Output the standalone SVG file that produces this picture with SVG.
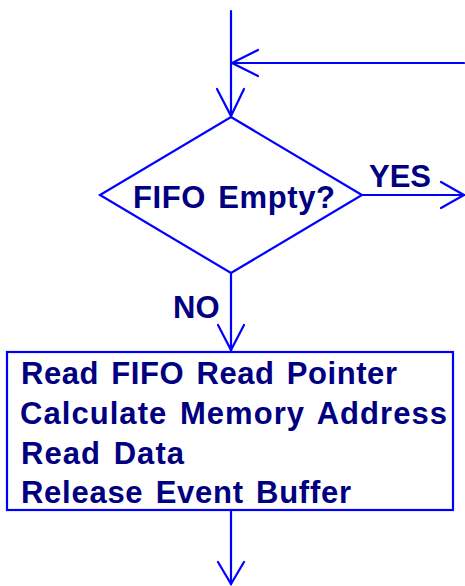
<svg xmlns="http://www.w3.org/2000/svg" width="465" height="586" viewBox="0 0 465 586">
<style>
.ln{fill:none;stroke:#0000ff;stroke-width:2.2;stroke-linecap:round;stroke-linejoin:miter}
.tx{font-family:"Liberation Sans",Arial,Helvetica,sans-serif;font-weight:bold;font-size:31px;fill:#000080;word-spacing:3px}
</style>
<rect width="465" height="586" fill="#ffffff"/>
<g id="connectors">
<path class="ln" d="M231,11 V117"/>
<path class="ln" d="M217,89 L231,116 L244,89"/>
<path class="ln" d="M464,63 H231"/>
<path class="ln" d="M258,50 L232,63 L258,76"/>
<path class="ln" d="M362,195 H464"/>
<path class="ln" d="M441,182 L464,195 L441,208"/>
<path class="ln" d="M231,273 V351"/>
<path class="ln" d="M218,325 L231,350 L244,325"/>
<path class="ln" d="M231,510 V584"/>
<path class="ln" d="M218,562 L231,584 L244,562"/>
<text class="tx" x="369" y="187">YES</text>
<text class="tx" x="173" y="318">NO</text>
</g>
<g id="decision">
<path class="ln" d="M231,117 L362,195 L231,273 L100,195 Z"/>
<text class="tx" x="133" y="208" textLength="202" lengthAdjust="spacing">FIFO Empty?</text>
</g>
<g id="process">
<rect class="ln" x="7" y="352" width="446" height="158"/>
<text class="tx" x="21" y="384" textLength="376" lengthAdjust="spacing">Read FIFO Read Pointer</text>
<text class="tx" x="20" y="424" textLength="427" lengthAdjust="spacing">Calculate Memory Address</text>
<text class="tx" x="21" y="464" textLength="163" lengthAdjust="spacing">Read Data</text>
<text class="tx" x="21" y="503" textLength="330" lengthAdjust="spacing">Release Event Buffer</text>
</g>
</svg>
